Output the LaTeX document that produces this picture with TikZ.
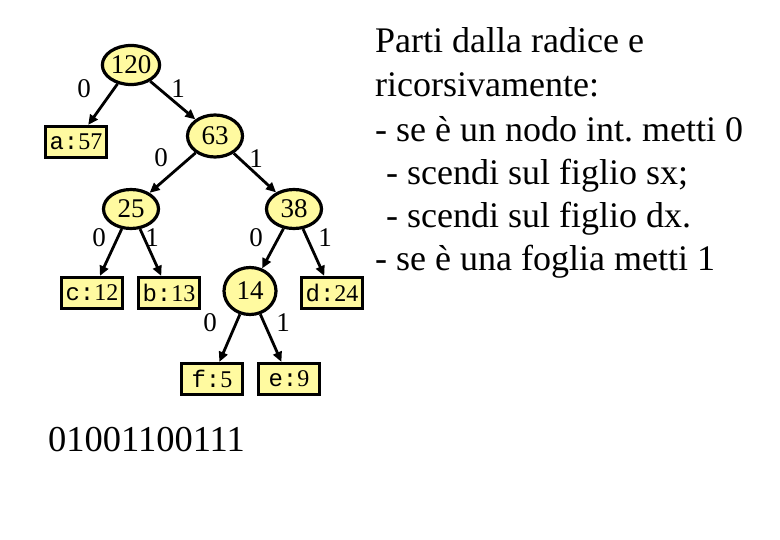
\documentclass[tikz,border=0pt]{standalone}
\usepackage{fontspec}
\setmainfont{Liberation Serif}
\setmonofont{Liberation Mono}
\usetikzlibrary{shapes.geometric,arrows.meta}
\definecolor{nodefill}{RGB}{255,250,160}
\tikzset{
  inner/.style={ellipse,draw=black,line width=3.2pt,fill=nodefill,minimum width=55pt,minimum height=39pt,inner sep=0pt,font=\fontsize{27}{27}\selectfont},
  leaf/.style={rectangle,draw=black,line width=3.2pt,fill=nodefill,minimum width=61pt,minimum height=31pt,inner sep=0pt,font=\fontsize{24}{24}\selectfont},
  bit/.style={font=\fontsize{27}{27}\selectfont,inner sep=0pt},
  edge/.style={line width=2.8pt,-{Triangle[length=10pt,width=9pt]}},
  txt/.style={anchor=base west,inner sep=0pt,font=\fontsize{36}{36}\selectfont}
}
\newcommand{\lf}[2]{\texttt{#1:}#2}
\frenchspacing
\begin{document}
\begin{tikzpicture}[x=1pt,y=-1pt]
\useasboundingbox[fill=white] (0,0) rectangle (780,540);
\node[inner] (n120) at (131,65) {120};
\node[inner,minimum height=42pt] (n63) at (215,136) {63};
\node[leaf] (a) at (76,142) {\lf{a}{57}};
\node[inner] (n25) at (131,209) {25};
\node[inner] (n38) at (294,209) {38};
\node[leaf] (c) at (92,293) {\lf{c}{12}};
\node[leaf] (b) at (169,293) {\lf{b}{13}};
\node[inner,minimum width=52pt,minimum height=47pt] (n14) at (250,291) {14};
\node[leaf] (d) at (332,293) {\lf{d}{24}};
\node[leaf] (f) at (212,379) {\lf{f}{5}};
\node[leaf] (e) at (289,379) {\lf{e}{9}};

\draw[edge] (n120) -- (a);
\draw[edge] (n120) -- (n63);
\draw[edge] (n63) -- (n25);
\draw[edge] (n63) -- (n38);
\draw[edge] (n25) -- (c);
\draw[edge] (n25) -- (b);
\draw[edge] (n38) -- (n14);
\draw[edge] (n38) -- (d);
\draw[edge] (n14) -- (f);
\draw[edge] (n14) -- (e);

\node[bit] (l1) at (84,89) {0};
\node[bit] (l2) at (178,89) {1};
\node[bit] (l3) at (161,158) {0};
\node[bit] (l4) at (256,159) {1};
\node[bit] (l5) at (99,238) {0};
\node[bit] (l6) at (152,238) {1};
\node[bit] (l7) at (256,238) {0};
\node[bit] (l8) at (325,238) {1};
\node[bit] (l9) at (210,323) {0};
\node[bit] (l10) at (283,323) {1};

\node[anchor=base west,inner sep=0pt,font=\fontsize{36.5}{36.5}\selectfont] (code) at (48,451) {01001100111};

\node[txt] (t1) at (375,53) {Parti dalla radice e};
\node[txt] (t2) at (375,97) {ricorsivamente:};
\node[txt] (t3) at (375,142) {- se è un nodo int. metti 0};
\node[txt] (t4) at (386,185) {- scendi sul figlio sx;};
\node[txt] (t5) at (386,228) {- scendi sul figlio dx.};
\node[txt] (t6) at (375,271) {- se è una foglia metti 1};
\end{tikzpicture}
\end{document}
